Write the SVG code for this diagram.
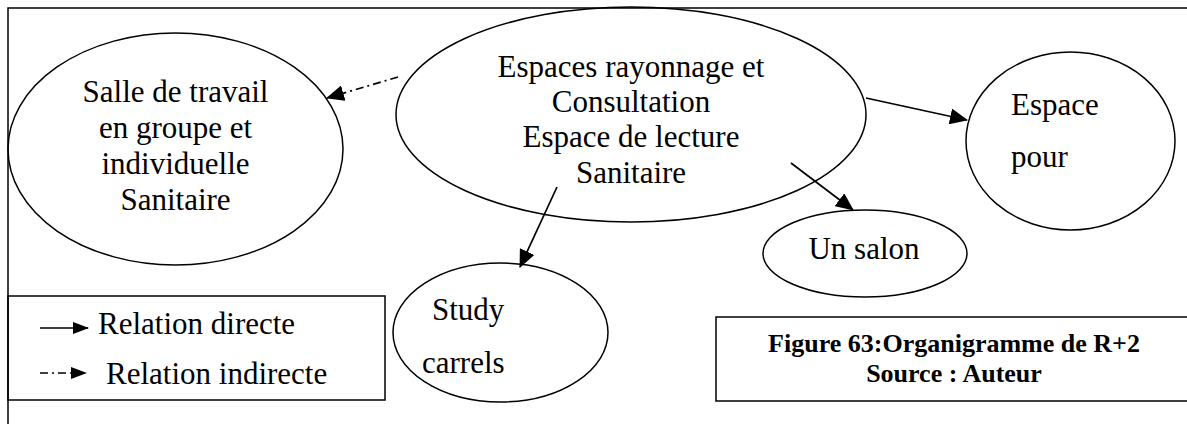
<svg xmlns="http://www.w3.org/2000/svg" width="1187" height="424" viewBox="0 0 1187 424">
<style>
.shape{fill:none;stroke:#000;stroke-width:1.5}
.t{font-family:'Liberation Serif','DejaVu Serif',serif;font-size:31px;fill:#000}
.c{text-anchor:middle}
.cap{font-family:'Liberation Serif','DejaVu Serif',serif;font-size:26px;font-weight:bold;fill:#000;text-anchor:middle}
.edge{fill:none;stroke:#000;stroke-width:1.7}
.dd{stroke-dasharray:8 4 2 4}
</style>
<defs>
<marker id="ah" markerUnits="userSpaceOnUse" markerWidth="18" markerHeight="16" refX="17" refY="8" orient="auto">
<path d="M0,0 L18,8 L0,16 z" fill="#000"/>
</marker>
<marker id="ahs" markerUnits="userSpaceOnUse" markerWidth="16" markerHeight="12" refX="15" refY="6" orient="auto">
<path d="M0,0 L16,6 L0,12 z" fill="#000"/>
</marker>
</defs>
<rect id="frame" class="shape" x="8" y="8" width="1200" height="430"/>
<g id="node-salle">
<ellipse class="shape" cx="175.5" cy="149" rx="167.5" ry="116"/>
<text class="t c" x="175.5" y="102">Salle de travail</text>
<text class="t c" x="175.5" y="138">en groupe et</text>
<text class="t c" x="175.5" y="174">individuelle</text>
<text class="t c" x="175.5" y="210">Sanitaire</text>
</g>
<g id="node-espaces">
<ellipse class="shape" cx="631" cy="114.5" rx="235" ry="107.5"/>
<text class="t c" x="631" y="77">Espaces rayonnage et</text>
<text class="t c" x="631" y="112">Consultation</text>
<text class="t c" x="631" y="147">Espace de lecture</text>
<text class="t c" x="631" y="183">Sanitaire</text>
</g>
<g id="node-espace-pour">
<ellipse class="shape" cx="1070.5" cy="141" rx="104.5" ry="89"/>
<text class="t" x="1011" y="115">Espace</text>
<text class="t" x="1011" y="167">pour</text>
</g>
<g id="node-salon">
<ellipse class="shape" cx="865" cy="253.5" rx="102" ry="43.5"/>
<text class="t c" x="864" y="259">Un salon</text>
</g>
<g id="node-study">
<ellipse class="shape" cx="500.5" cy="332.5" rx="107.5" ry="69.5"/>
<text class="t" x="432" y="320">Study</text>
<text class="t" x="422" y="373">carrels</text>
</g>
<g id="connectors">
<line class="edge dd" x1="398" y1="77" x2="327" y2="98" marker-end="url(#ah)"/>
<line class="edge" x1="557" y1="187" x2="520" y2="267" marker-end="url(#ah)"/>
<line class="edge" x1="866" y1="98" x2="967" y2="120" marker-end="url(#ah)"/>
<line class="edge" x1="791" y1="163" x2="853" y2="210" marker-end="url(#ah)"/>
</g>
<g id="legend">
<rect class="shape" x="8" y="296" width="377" height="104"/>
<line class="edge" x1="40" y1="328" x2="88" y2="328" marker-end="url(#ahs)"/>
<text class="t" x="98" y="334">Relation directe</text>
<line class="edge dd" x1="40" y1="373" x2="86" y2="373" marker-end="url(#ahs)"/>
<text class="t" x="106" y="384">Relation indirecte</text>
</g>
<g id="caption">
<rect class="shape" x="716" y="317" width="500" height="84"/>
<text class="cap" x="954" y="352">Figure 63:Organigramme de R+2</text>
<text class="cap" x="954" y="382">Source : Auteur</text>
</g>
</svg>
